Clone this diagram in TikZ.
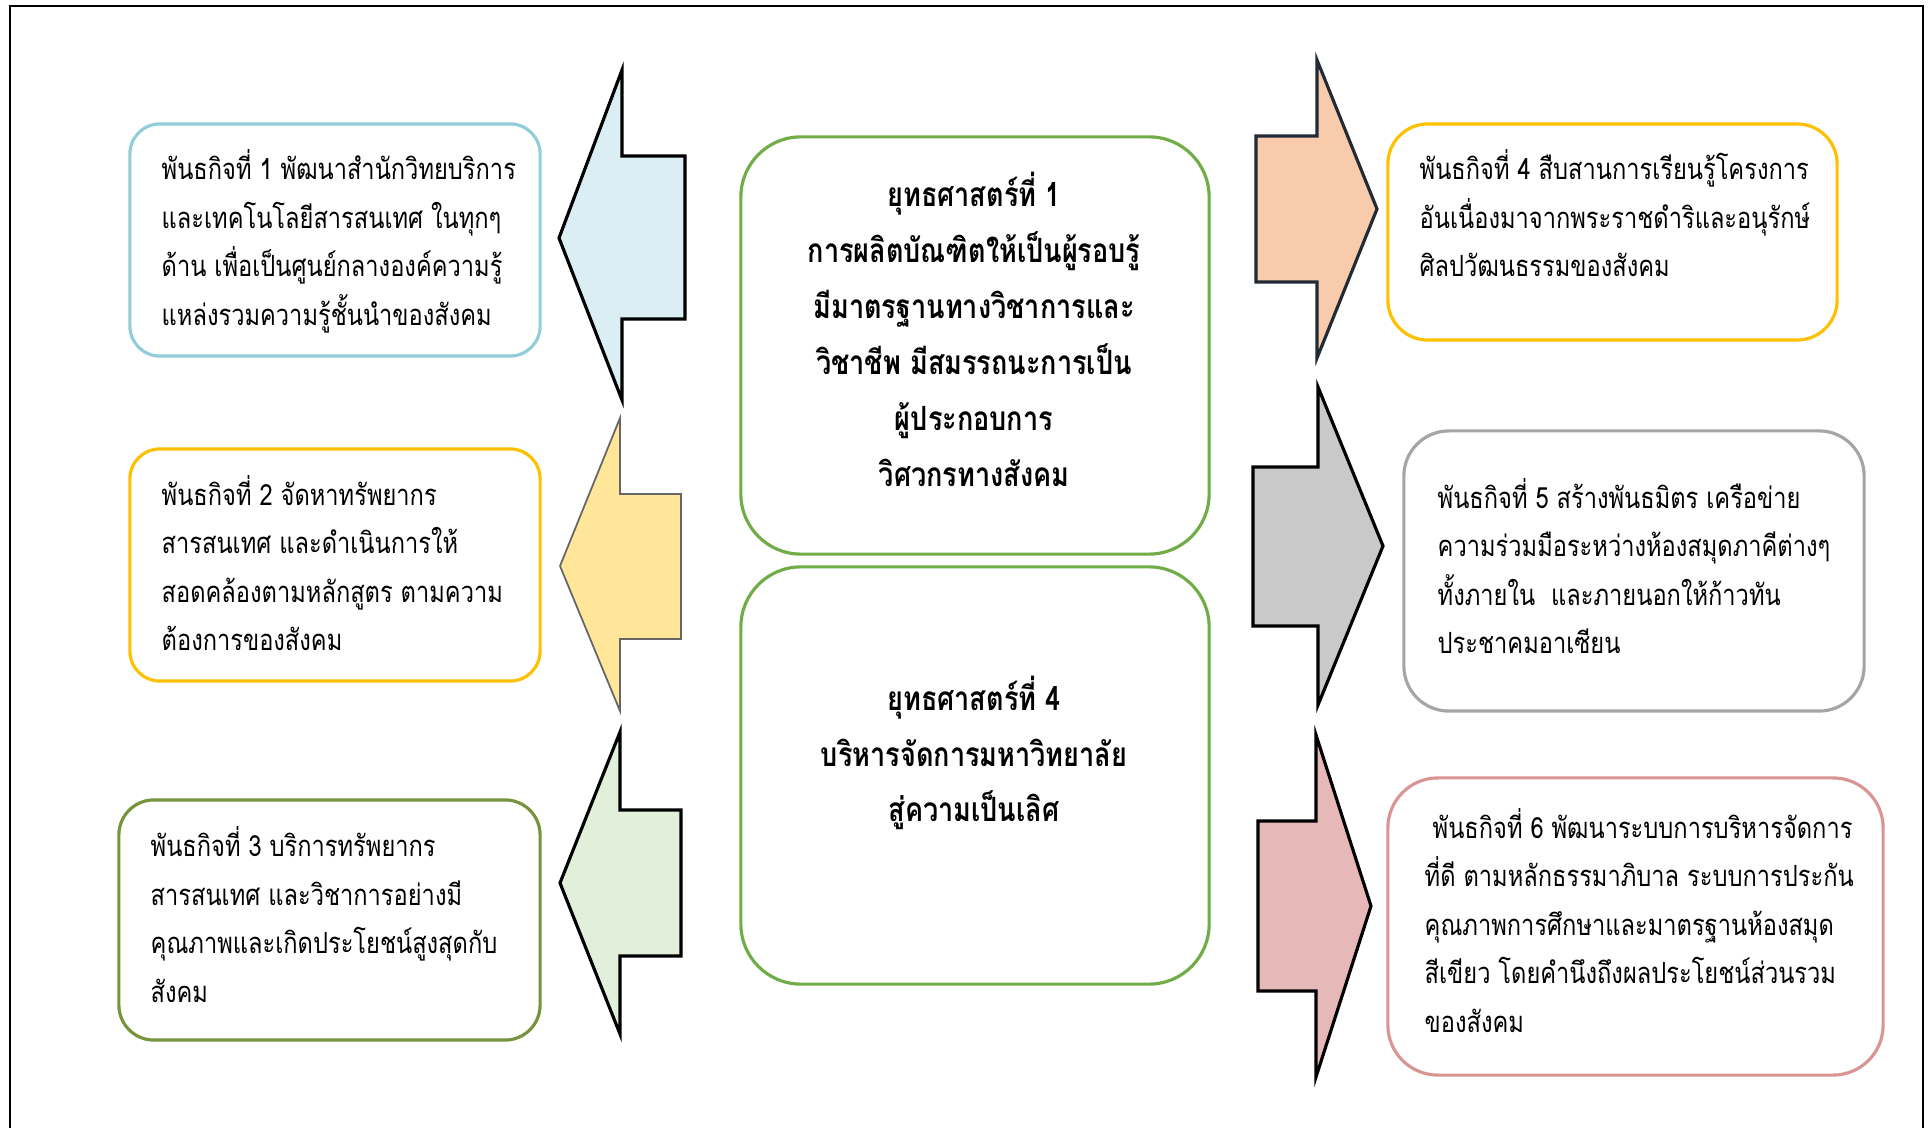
\documentclass[tikz,border=0pt]{standalone}
\usepackage{fontspec}
\setmainfont[Script=Thai, FakeStretch=0.81]{Loma}
\usepackage{tikz}

\definecolor{boxblue}{HTML}{92CDDC}
\definecolor{boxgold}{HTML}{FFC000}
\definecolor{boxolive}{HTML}{77933C}
\definecolor{boxgreen}{HTML}{70AD47}
\definecolor{boxgray}{HTML}{A5A5A5}
\definecolor{boxrose}{HTML}{D99594}
\definecolor{arrblue}{HTML}{DAEEF3}
\definecolor{arryellow}{HTML}{FFE699}
\definecolor{arrgreen}{HTML}{E2EFDA}
\definecolor{arrpeach}{HTML}{F8CBAD}
\definecolor{arrgray}{HTML}{C9C9C9}
\definecolor{arrrose}{HTML}{E6B8B7}
\definecolor{arrline}{HTML}{222A35}

\begin{document}
\begin{tikzpicture}[x=0.01cm, y=-0.01cm,
	missionbox/.style={draw, line width=0.9pt, fill=white, rounded corners=#1},
	missiontext/.style={anchor=west, inner sep=0pt, align=left, font=\fontsize{8.3}{13.8}\selectfont},
	strattext/.style={inner sep=0pt, align=center, font=\fontsize{9.5}{15.9}\selectfont\bfseries},
	blockarr/.style={draw=black, line width=0.9pt, line join=miter}]
	\useasboundingbox (0,0) rectangle (1930,1128);
	% frame
	\draw[line width=0.6pt] (10,1128) -- (10,6) -- (1923,6) -- (1923,1128);

	% left side
	\node[missionbox=0.3cm, draw=boxblue, minimum width=4.10cm, minimum height=2.32cm] (m1) at (335,240) {};
	\node[missiontext] (m1txt) at (161,241.5) {พันธกิจที่ 1 พัฒนาสำนักวิทยบริการ\\และเทคโนโลยีสารสนเทศ ในทุกๆ\\ด้าน เพื่อเป็นศูนย์กลางองค์ความรู้\\แหล่งรวมความรู้ชั้นนำของสังคม};
	\node[missionbox=0.3cm, draw=boxgold, minimum width=4.10cm, minimum height=2.32cm] (m2) at (335,565) {};
	\node[missiontext] (m2txt) at (161,563) {พันธกิจที่ 2 จัดหาทรัพยากร\\สารสนเทศ และดำเนินการให้\\สอดคล้องตามหลักสูตร ตามความ\\ต้องการของสังคม};
	\node[missionbox=0.35cm, draw=boxolive, minimum width=4.21cm, minimum height=2.40cm] (m3) at (329.5,920) {};
	\node[missiontext] (m3txt) at (150,914.5) {พันธกิจที่ 3 บริการทรัพยากร\\สารสนเทศ และวิชาการอย่างมี\\คุณภาพและเกิดประโยชน์สูงสุดกับ\\สังคม};

	\draw[blockarr, fill=arrblue] (559,238) -- (622,70) -- (622,156) -- (685,156) -- (685,319) -- (622,319) -- (622,400) -- cycle;
	\draw[blockarr, fill=arryellow, draw=black!60, line width=0.5pt] (560,566) -- (620,418) -- (620,494) -- (681,494) -- (681,639) -- (620,639) -- (620,711) -- cycle;
	\draw[blockarr, fill=arrgreen] (560,883) -- (620,732) -- (620,810) -- (681,810) -- (681,956) -- (620,956) -- (620,1034) -- cycle;

	% strategies
	\node[missionbox=0.6cm, draw=boxgreen, minimum width=4.68cm, minimum height=4.17cm] (s1) at (975,345.5) {};
	\node[strattext] (s1txt) at (974,329.5) {ยุทธศาสตร์ที่ 1\\การผลิตบัณฑิตให้เป็นผู้รอบรู้\\มีมาตรฐานทางวิชาการและ\\วิชาชีพ มีสมรรถนะการเป็น\\ผู้ประกอบการ\\วิศวกรทางสังคม};
	\node[missionbox=0.6cm, draw=boxgreen, minimum width=4.68cm, minimum height=4.17cm] (s4) at (975,775.5) {};
	\node[strattext] (s4txt) at (974,753) {ยุทธศาสตร์ที่ 4\\บริหารจัดการมหาวิทยาลัย\\สู่ความเป็นเลิศ};

	% right side
	\draw[blockarr, fill=arrpeach, draw=arrline] (1256,136) -- (1317,136) -- (1317,60) -- (1377,209) -- (1317,358) -- (1317,282) -- (1256,282) -- cycle;
	\draw[blockarr, fill=arrgray] (1253,467) -- (1318,467) -- (1318,387) -- (1383,546) -- (1318,705) -- (1318,626) -- (1253,626) -- cycle;
	\draw[blockarr, fill=arrrose] (1258,821) -- (1316,821) -- (1316,735) -- (1371,906) -- (1316,1077) -- (1316,991) -- (1258,991) -- cycle;

	\node[missionbox=0.4cm, draw=boxgold, minimum width=4.49cm, minimum height=2.16cm] (m4) at (1612.5,232) {};
	\node[missiontext] (m4txt) at (1419,213.5) {พันธกิจที่ 4 สืบสานการเรียนรู้โครงการ\\อันเนื่องมาจากพระราชดำริและอนุรักษ์\\ศิลปวัฒนธรรมของสังคม};
	\node[missionbox=0.45cm, draw=boxgray, minimum width=4.60cm, minimum height=2.80cm] (m5) at (1634,571) {};
	\node[missiontext] (m5txt) at (1437,566) {พันธกิจที่ 5 สร้างพันธมิตร เครือข่าย\\ความร่วมมือระหว่างห้องสมุดภาคีต่างๆ\\ทั้งภายใน\ \ และภายนอกให้ก้าวทัน\\ประชาคมอาเซียน};
	\node[missionbox=0.5cm, draw=boxrose, minimum width=4.95cm, minimum height=2.97cm] (m6) at (1635.5,926.5) {};
	\node[missiontext] (m6txt) at (1424,920.5) {\ พันธกิจที่ 6 พัฒนาระบบการบริหารจัดการ\\ที่ดี ตามหลักธรรมาภิบาล ระบบการประกัน\\คุณภาพการศึกษาและมาตรฐานห้องสมุด\\สีเขียว โดยคำนึงถึงผลประโยชน์ส่วนรวม\\ของสังคม};
\end{tikzpicture}
\end{document}
